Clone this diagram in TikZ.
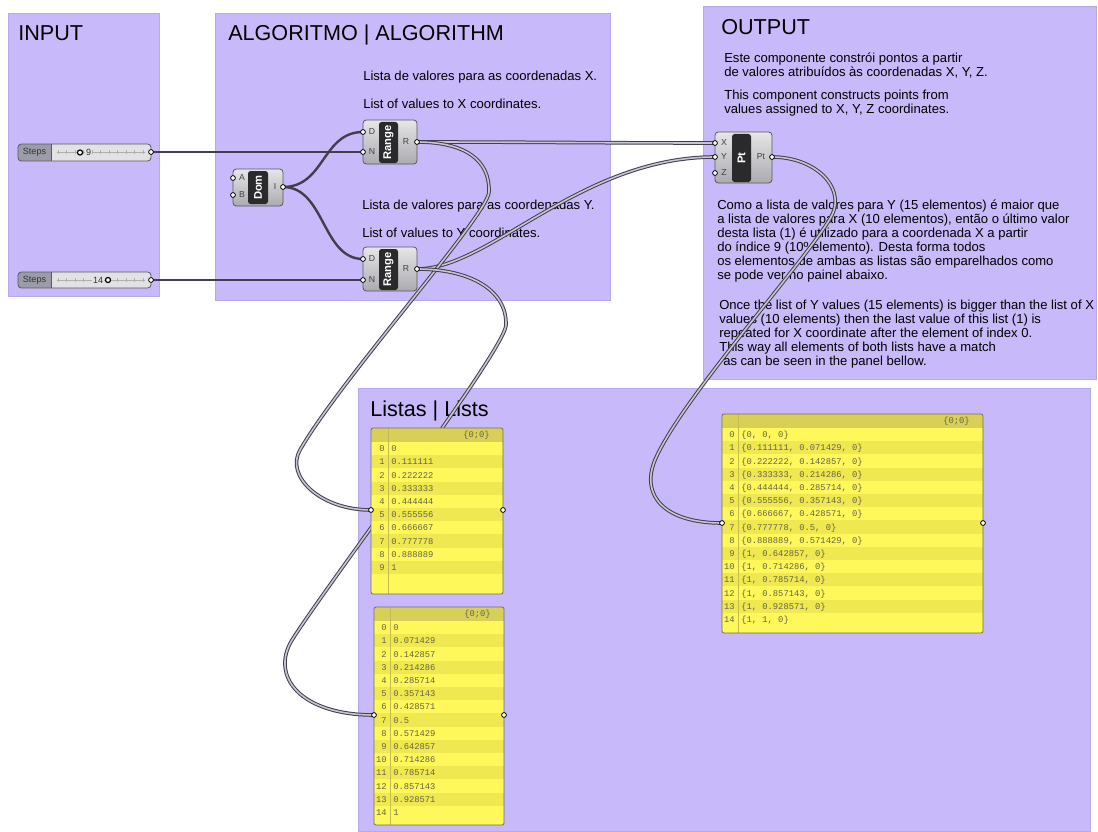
\documentclass[tikz,border=0pt]{standalone}
\usepackage{fontspec}
\setmainfont{Liberation Sans}
\setmonofont{Liberation Mono}
\usetikzlibrary{fit}

\definecolor{grpfill}{RGB}{200,186,250}
\definecolor{grpedge}{RGB}{183,168,236}
\definecolor{wirecol}{RGB}{66,62,78}
\definecolor{wirecore}{RGB}{200,197,210}
\definecolor{compedge}{RGB}{88,88,94}
\definecolor{comptop}{RGB}{230,230,232}
\definecolor{compbot}{RGB}{170,170,176}
\definecolor{corefill}{RGB}{42,42,44}
\definecolor{pbg}{RGB}{255,248,90}
\definecolor{palt}{RGB}{240,232,80}
\definecolor{phead}{RGB}{216,207,86}
\definecolor{psep}{RGB}{196,188,78}
\definecolor{ptext}{RGB}{100,100,72}
\definecolor{pedge}{RGB}{112,112,112}
\definecolor{slab}{RGB}{156,156,168}
\definecolor{sbody}{RGB}{226,226,228}
\definecolor{stick}{RGB}{175,175,178}

\tikzset{
  grp/.style={fill=grpfill, draw=grpedge, line width=0.5pt},
  grptitle/.style={anchor=base west, inner sep=0, font=\fontsize{16.2}{18}\selectfont},
  txt/.style={anchor=base west, inner sep=0, font=\fontsize{9.8}{10.5}\selectfont},
  para/.style={anchor=north west, inner sep=0, align=left, font=\fontsize{9.8}{10.6}\selectfont},
  comp/.style={draw=compedge, line width=0.6pt, rounded corners=2.5pt, top color=comptop, bottom color=compbot, inner sep=0},
  core/.style={fill=corefill, rounded corners=2pt, inner sep=0},
  corelbl/.style={rotate=90, text=white, inner sep=0, font=\bfseries\fontsize{8.4}{9}\selectfont},
  plbl/.style={text=black!75, inner sep=0, font=\fontsize{6.5}{7}\selectfont},
  port/.style={circle, draw=black, fill=white, line width=0.6pt, minimum size=3.6pt, inner sep=0},
  wire/.style={draw=wirecol, line width=1.8pt},
  lwire/.style={draw=wirecol, line width=0.75pt, double=wirecore, double distance=1.2pt},
  rowidx/.style={anchor=base east, inner sep=0, text=ptext, font=\ttfamily\fontsize{6.6}{7}\selectfont},
  rowval/.style={anchor=base west, inner sep=0, text=ptext, font=\ttfamily\fontsize{6.6}{7}\selectfont},
  knob/.style={circle, draw=black, fill=white, line width=0.9pt, minimum size=3.8pt, inner sep=0},
  sval/.style={inner sep=0.6pt, fill=sbody, text=black!80, font=\fontsize{6.8}{7}\selectfont},
  slbl/.style={inner sep=0, text=black!80, font=\fontsize{6.8}{7}\selectfont},
}

% panel: name, x1, y1, x2, y2, index separator x, list of rows
\newcommand\ghpanel[7]{%
  \node[fit={(#2,#3) (#4,#5)}, inner sep=0] (#1) {};
  \begin{scope}
    \clip[rounded corners=1.5pt] (#2,#3) rectangle (#4,#5);
    \fill[pbg] (#2,#3) rectangle (#4,#5);
    \fill[phead] (#2,#3) rectangle (#4,#3+14);
    \foreach \v [count=\k from 0] in {#7} {
      \pgfmathsetmacro\ry{#3+14+13.2*\k}
      \ifodd\k \fill[palt] (#2,\ry) rectangle (#4,\ry+13.2); \fi
      \node[rowidx] at (#6-3,\ry+9.6) {\k};
      \node[rowval] at (#6+3,\ry+9.6) {\v};
    }
    \draw[psep, line width=0.5pt] (#6,#3) -- (#6,#5);
  \end{scope}
  \draw[pedge, line width=0.6pt, rounded corners=1.5pt] (#2,#3) rectangle (#4,#5);
  \node[rowidx] at (#4-13,#3+9.5) {\{0;0\}};
}

% slider: name, y top, y bottom, value, value x, knob x
\newcommand\ghslider[6]{%
  \node[fit={(18,#2) (151,#3)}, inner sep=0] (#1) {};
  \begin{scope}
    \clip[rounded corners=2.5pt] (18,#2) rectangle (151,#3);
    \fill[sbody] (18,#2) rectangle (151,#3);
    \fill[slab] (18,#2) rectangle (51,#3);
  \end{scope}
  \draw[compedge, line width=0.6pt] (51,#2) -- (51,#3);
  \draw[compedge, line width=0.6pt, rounded corners=2.5pt] (18,#2) rectangle (151,#3);
  \node[slbl] at (34.5,{(#2+#3)/2}) {Steps};
  \draw[stick, line width=0.5pt] (57,{(#2+#3)/2}) -- (145,{(#2+#3)/2});
  \foreach \t in {58,66.5,...,144}
    \draw[stick, line width=0.5pt] (\t,{(#2+#3)/2-2}) -- (\t,{(#2+#3)/2+2});
  \node[sval, anchor=west] at (#5,{(#2+#3)/2}) {#4};
  \node[knob] at (#6,{(#2+#3)/2}) {};
}

\begin{document}
\begin{tikzpicture}[x=0.75pt, y=-0.75pt]
\useasboundingbox (0,0) rectangle (1098,831);
\fill[white] (0,0) rectangle (1098,831);

% ---------- groups ----------
\draw[grp] (8,13) rectangle (159,296);
\draw[grp] (215,13) rectangle (610,300);
\draw[grp] (703,6) rectangle (1096,379);
\draw[grp] (358,388) rectangle (1090,831);

\node[grptitle] (tin) at (18,40.5) {INPUT};
\node[grptitle] (talg) at (228,40.5) {ALGORITMO | ALGORITHM};
\node[grptitle] (tout) at (721,35) {OUTPUT};
\node[grptitle] (tlst) at (370,416) {Listas | Lists};

\node[txt] (nx1) at (363,81) {Lista de valores para as coordenadas X.};
\node[txt] (nx2) at (363,109) {List of values to X coordinates.};
\node[txt] (ny1) at (362,209) {Lista de valores para as coordenadas Y.};
\node[txt] (ny2) at (362,237) {List of values to Y coordinates.};

\node[para, font=\fontsize{9.8}{10.5}\selectfont] (ptA) at (724,52.2)
  {\strut Este componente constrói pontos a partir\\de valores atribuídos às coordenadas X, Y, Z.};
\node[para, font=\fontsize{9.8}{10.5}\selectfont] (ptB) at (724,89.2)
  {\strut This component constructs points from\\values assigned to X, Y, Z coordinates.};
\node[para] (ptC) at (717,199)
  {\strut Como a lista de valores para Y (15 elementos) é maior que\\
   a lista de valores para X (10 elementos), então o último valor\\
   desta lista (1) é utilizado para a coordenada X a partir\\
   do índice 9 (10º elemento). Desta forma todos\\
   os elementos de ambas as listas são emparelhados como\\
   se pode ver no painel abaixo.};
\node[para] (ptD) at (719,299)
  {\strut Once the list of Y values (15 elements) is bigger than the list of X\\
   values (10 elements) then the last value of this list (1) is\\
   repeated for X coordinate after the element of index 0.\\
   This way all elements of both lists have a match\\
   \hspace*{3pt}as can be seen in the panel bellow.};

% ---------- port positions ----------
\coordinate (sl1o) at (151,152);
\coordinate (sl2o) at (151,280);
\coordinate (domA) at (233,178);
\coordinate (domB) at (233,195);
\coordinate (domI) at (283,187);
\coordinate (rg1D) at (363,132);
\coordinate (rg1N) at (363,152);
\coordinate (rg1R) at (417,142);
\coordinate (rg2D) at (363,259);
\coordinate (rg2N) at (363,280);
\coordinate (rg2R) at (417,269);
\coordinate (ptX) at (715,143);
\coordinate (ptY) at (715,157);
\coordinate (ptZ) at (715,173);
\coordinate (ptO) at (772,157);
\coordinate (pn1i) at (371,510);
\coordinate (pn1o) at (503,510);
\coordinate (pn2i) at (374,715);
\coordinate (pn2o) at (504,715);
\coordinate (pn3i) at (722,523);
\coordinate (pn3o) at (983,523);

% ---------- wires ----------
\draw[wire] (sl1o) -- (rg1N);
\draw[wire] (sl2o) -- (rg2N);
\draw[wire] (domI) .. controls (325,187) and (322,132) .. (rg1D);
\draw[wire] (domI) .. controls (325,187) and (322,259) .. (rg2D);

\draw[lwire] (rg1R) .. controls (520,142) and (610,143) .. (ptX);
\draw[lwire] (rg2R) .. controls (490,269) and (580,157) .. (ptY);
\draw[lwire] (rg1R) .. controls (465,142) and (490,160) .. (489,192)
  .. controls (488,215) and (340,380) .. (300,450)
  .. controls (285,476) and (320,510) .. (pn1i);
\draw[lwire] (rg2R) .. controls (470,269) and (507,290) .. (506,325)
  .. controls (505,350) and (330,580) .. (292,640)
  .. controls (270,676) and (300,715) .. (pn2i);
\draw[lwire] (ptO) .. controls (815,157) and (845.6,187) .. (832,215)
  .. controls (815,250) and (680,400) .. (655,460)
  .. controls (640,496) and (665,523) .. (pn3i);

% ---------- sliders ----------
\ghslider{sl1}{144}{161}{9}{85}{80}
\ghslider{sl2}{272}{288}{14}{92}{108}

% ---------- components ----------
\node[comp, fit={(233,169) (283,206)}] (dom) {};
\node[core, fit={(248,171) (268,204)}] (domc) {};
\node[corelbl] at (domc.center) {Dom};
\node[plbl] at (242,178) {A};
\node[plbl] at (242,195) {B};
\node[plbl] at (275,187) {I};

\node[comp, fit={(363,120) (417,164)}] (rg1) {};
\node[core, fit={(379,122) (398,163)}] (rg1c) {};
\node[corelbl] at (rg1c.center) {Range};
\node[plbl] at (372,132) {D};
\node[plbl] at (372,152) {N};
\node[plbl] at (406,142) {R};

\node[comp, fit={(363,247) (417,291)}] (rg2) {};
\node[core, fit={(379,249) (398,290)}] (rg2c) {};
\node[corelbl] at (rg2c.center) {Range};
\node[plbl] at (372,259) {D};
\node[plbl] at (372,280) {N};
\node[plbl] at (406,269) {R};

\node[comp, fit={(715,132) (772,183)}] (pt) {};
\node[core, fit={(732,134) (751,182)}] (ptc) {};
\node[corelbl] at (ptc.center) {Pt};
\node[plbl] at (724,143) {X};
\node[plbl] at (724,157) {Y};
\node[plbl] at (724,173) {Z};
\node[plbl] at (761,157) {Pt};

% ---------- panels ----------
\ghpanel{pan1}{371}{428}{503}{594}{388}{0,0.111111,0.222222,0.333333,0.444444,0.555556,0.666667,0.777778,0.888889,1}
\ghpanel{pan2}{374}{607}{504}{825}{390}{0,0.071429,0.142857,0.214286,0.285714,0.357143,0.428571,0.5,0.571429,0.642857,0.714286,0.785714,0.857143,0.928571,1}
\ghpanel{pan3}{722}{414}{983}{633}{738}{{\{0, 0, 0\}},{\{0.111111, 0.071429, 0\}},{\{0.222222, 0.142857, 0\}},{\{0.333333, 0.214286, 0\}},{\{0.444444, 0.285714, 0\}},{\{0.555556, 0.357143, 0\}},{\{0.666667, 0.428571, 0\}},{\{0.777778, 0.5, 0\}},{\{0.888889, 0.571429, 0\}},{\{1, 0.642857, 0\}},{\{1, 0.714286, 0\}},{\{1, 0.785714, 0\}},{\{1, 0.857143, 0\}},{\{1, 0.928571, 0\}},{\{1, 1, 0\}}}

% ---------- ports ----------
\foreach \p in {sl1o,sl2o,domA,domB,domI,rg1D,rg1N,rg1R,rg2D,rg2N,rg2R,ptX,ptY,ptZ,ptO,pn1i,pn1o,pn2i,pn2o,pn3i,pn3o}
  \node[port] at (\p) {};
\end{tikzpicture}
\end{document}
